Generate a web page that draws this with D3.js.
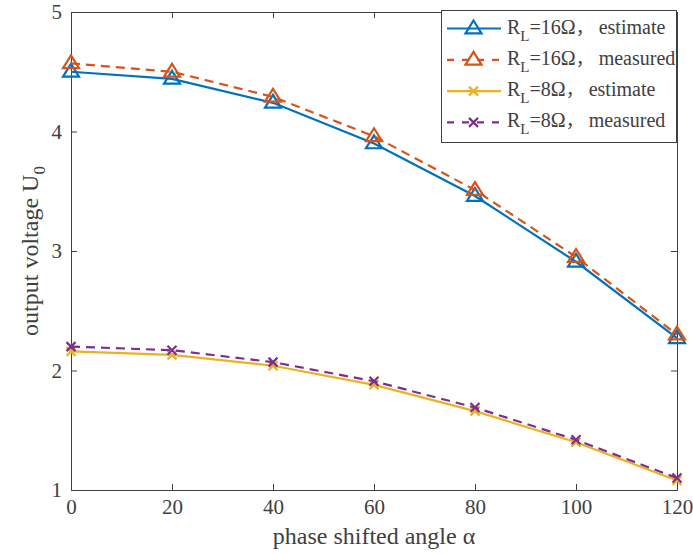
<!DOCTYPE html>
<html><head><meta charset="utf-8">
<script src="https://cdn.jsdelivr.net/npm/d3@7"></script>
<style>body{margin:0;background:#fff}svg{display:block}text{font-family:"Liberation Serif","Times New Roman",serif;fill:#404040}</style>
</head><body><svg id="c" width="693" height="554"></svg>
<script>
const angles = [0, 20, 40, 60, 80, 100, 120];
const est16 = [4.50, 4.44, 4.24, 3.90, 3.46, 2.91, 2.27];
const meas16 = [4.57, 4.50, 4.29, 3.96, 3.51, 2.95, 2.30];
const est8 = [2.16, 2.13, 2.04, 1.88, 1.66, 1.40, 1.08];
const meas8 = [2.20, 2.17, 2.07, 1.91, 1.69, 1.42, 1.10];
const xTicks = [0, 20, 40, 60, 80, 100, 120];
const yTicks = [1, 2, 3, 4, 5];
const seriesNames = ["16Ω， estimate", "16Ω， measured", "8Ω， estimate", "8Ω， measured"];

const series = [
  {name: seriesNames[0], vals: est16, color: "#0072BD", dash: null, marker: "tri"},
  {name: seriesNames[1], vals: meas16, color: "#D95319", dash: "9,6", marker: "tri"},
  {name: seriesNames[2], vals: est8, color: "#EDB120", dash: null, marker: "x"},
  {name: seriesNames[3], vals: meas8, color: "#7E2F8E", dash: "9,6", marker: "x"}
];

const svg = d3.select("#c");
const L = 71, R = 677, T = 12, B = 490;
const x = d3.scaleLinear().domain([0, 120]).range([L, R]);
const y = d3.scaleLinear().domain([1, 5]).range([B, T]);
const axisColor = "#404040";
const fmt = d3.format("d");

const gx = svg.append("g").attr("transform", `translate(0,${B})`)
  .call(d3.axisBottom(x).tickValues(xTicks).tickFormat(fmt).tickSizeInner(-6).tickSizeOuter(0).tickPadding(9));
const gxt = svg.append("g").attr("transform", `translate(0,${T})`)
  .call(d3.axisTop(x).tickValues(xTicks).tickSizeInner(-6).tickSizeOuter(0).tickFormat(""));
const gy = svg.append("g").attr("transform", `translate(${L},0)`)
  .call(d3.axisLeft(y).tickValues(yTicks).tickFormat(fmt).tickSizeInner(-6).tickSizeOuter(0).tickPadding(9));
const gyr = svg.append("g").attr("transform", `translate(${R},0)`)
  .call(d3.axisRight(y).tickValues(yTicks).tickSizeInner(-6).tickSizeOuter(0).tickFormat(""));
[gx, gxt, gy, gyr].forEach(g => {
  g.attr("font-size", null).attr("font-family", null);
  g.selectAll("path").attr("stroke", axisColor).attr("stroke-width", 1);
  g.selectAll("line").attr("stroke", axisColor).attr("stroke-width", 1);
  g.selectAll("text").style("font-family", '"Liberation Serif", serif').style("font-size", "21px").attr("fill", "#404040");
});

svg.append("text").attr("x", 374).attr("y", 544).attr("text-anchor", "middle")
  .style("font-size", "24px").text("phase shifted angle α");
const yl = svg.append("text").attr("transform", `translate(38,${(T + B) / 2}) rotate(-90)`)
  .attr("text-anchor", "middle").style("font-size", "24px");
yl.append("tspan").text("output voltage U");
yl.append("tspan").attr("dy", 7).style("font-size", "17px").text("0");

const line = d3.line().x((d, i) => x(angles[i])).y(d => y(d));

function drawMarker(g, type, cx, cy, color) {
  if (type === "tri") {
    const s = 8;
    g.append("path").attr("d", `M${cx},${cy - s} L${cx + s},${cy + s * 0.6} L${cx - s},${cy + s * 0.6} Z`)
      .attr("fill", "none").attr("stroke", color).attr("stroke-width", 2.2);
  } else {
    const s = 4.5;
    g.append("path").attr("d", `M${cx - s},${cy - s} L${cx + s},${cy + s} M${cx - s},${cy + s} L${cx + s},${cy - s}`)
      .attr("fill", "none").attr("stroke", color).attr("stroke-width", 2.2);
  }
}

series.forEach(s => {
  const g = svg.append("g");
  g.append("path").attr("d", line(s.vals)).attr("fill", "none").attr("stroke", s.color)
    .attr("stroke-width", 2.2).attr("stroke-dasharray", s.dash);
  s.vals.forEach((v, i) => drawMarker(g, s.marker, x(angles[i]), y(v), s.color));
});

const lg = svg.append("g");
lg.append("rect").attr("x", 441.5).attr("y", 10.5).attr("width", 235).attr("height", 132)
  .attr("fill", "#fff").attr("stroke", axisColor).attr("stroke-width", 1);
series.forEach((s, i) => {
  const cy = 28.5 + i * 31.3;
  lg.append("line").attr("x1", 447).attr("x2", 501).attr("y1", cy).attr("y2", cy)
    .attr("stroke", s.color).attr("stroke-width", 2.2).attr("stroke-dasharray", s.dash ? "7,8" : null);
  drawMarker(lg, s.marker, 473.5, cy, s.color);
  const t = lg.append("text").attr("x", 507).attr("y", cy + 5).style("font-size", "20px");
  t.append("tspan").text("R");
  t.append("tspan").attr("dy", 7).style("font-size", "15px").text("L");
  t.append("tspan").attr("dy", -7).text("=" + s.name.split("，")[0]);
  t.append("tspan").style("font-family", '"Noto Sans CJK SC"').style("font-size", "18px").text("，");
  t.append("tspan").text(" " + s.name.split("，")[1].trim());
});
</script></body></html>
